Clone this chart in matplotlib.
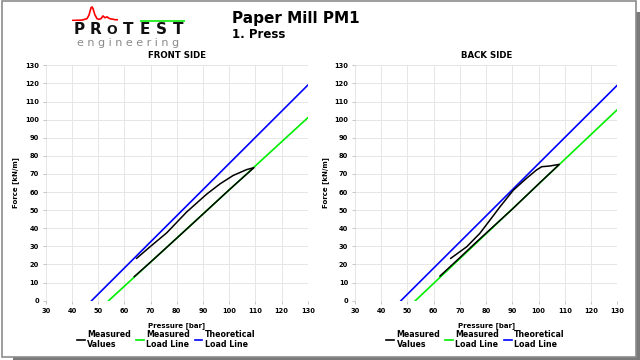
import matplotlib
matplotlib.use("Agg")
import matplotlib.pyplot as plt
from matplotlib.patches import Rectangle
import numpy as np

plt.rcParams['font.family'] = ['DejaVu Sans']

# ---- data ----
x_ticks = [30, 40, 50, 60, 70, 80, 90, 100, 110, 120, 130]
y_ticks = [0, 10, 20, 30, 40, 50, 60, 70, 80, 90, 100, 110, 120, 130]

# Front side
front_theo_x = [47.5, 130]
front_theo_y = [0, 119]
front_load_x = [54, 130]
front_load_y = [0, 101]
front_meas_x = [64.7, 70.0, 76.2, 83.8, 91.4, 96.5, 101.6, 106.7, 109.5,
                100.0, 90.0, 80.0, 70.0, 63.8]
front_meas_y = [23.4, 30.0, 37.5, 49.0, 58.8, 64.5, 69.2, 72.4, 73.5,
                61.2, 47.8, 34.5, 21.3, 13.3]

# Back side
back_theo_x = [47.5, 130]
back_theo_y = [0, 119]
back_load_x = [53, 130]
back_load_y = [0, 105.5]
back_meas_x = [66.5, 72.6, 77.6, 81.5, 85.3, 90.4, 95.4, 99.2, 101.2, 104.3, 107.9,
               100.0, 90.0, 82.0, 76.0, 70.0, 62.4]
back_meas_y = [23.4, 29.8, 37.2, 44.6, 51.9, 61.1, 67.6, 72.2, 74.0, 74.4, 75.3,
               64.5, 50.6, 40.0, 32.0, 23.8, 13.6]

# logo curve
logo_x = [0, 10, 15, 17, 19, 20, 21, 23, 25, 27, 29, 31, 33, 35, 37, 39, 41, 43, 46]
logo_y = [0, 0.2, 1.0, 3, 7, 7.5, 6.5, 3, 1.0, 0.6, 1.0, 2.5, 1.5, 2.0, 1.2, 0.8, 0.7, 0.4, 0.4]

legend_labels = ["Measured\nValues", "Measured\nLoad Line", "Theoretical\nLoad Line"]

fig = plt.figure(figsize=(6.4, 3.6), dpi=100)

# page frame with shadow
fig.patches.append(Rectangle((636/640, 0), 4/640, 348/360, transform=fig.transFigure,
                             facecolor='#7a7a7a', edgecolor='none', zorder=-3))
fig.patches.append(Rectangle((13/640, 0), 627/640, 3/360, transform=fig.transFigure,
                             facecolor='#7a7a7a', edgecolor='none', zorder=-3))
fig.patches.append(Rectangle((2/640, 3/360), 634/640, 356/360, transform=fig.transFigure,
                             facecolor='white', edgecolor='#8c8c8c', linewidth=1.2, zorder=-2))

def panel(rect, title, tx, ty, lx, ly, mx, my):
    ax = fig.add_axes(rect)
    ax.set_facecolor('none')
    ax.plot(tx, ty, color='#0000ff', lw=1.2, zorder=3)
    ax.plot(lx, ly, color='#00ee00', lw=1.2, zorder=3)
    ax.plot(mx, my, color='black', lw=1.1, zorder=4)
    ax.set_xlim(30, 130)
    ax.set_ylim(0, 130)
    ax.set_xticks(x_ticks)
    ax.set_yticks(y_ticks)
    ax.grid(True, color='#e6e6e6', lw=0.7)
    for s in ax.spines.values():
        s.set_visible(False)
    ax.tick_params(length=2, width=0.6, color='#bbbbbb', labelsize=4.8, pad=3)
    for lab in ax.get_xticklabels() + ax.get_yticklabels():
        lab.set_fontweight('bold')
    ax.set_title(title, fontsize=6.2, fontweight='bold', pad=5)
    ax.set_ylabel("Force [kN/m]", fontsize=5, fontweight='bold', labelpad=4)
    ax.set_xlabel("Pressure [bar]", fontsize=5, fontweight='bold', labelpad=6)
    handles = [plt.Line2D([], [], color='black', lw=1.2),
               plt.Line2D([], [], color='#00ee00', lw=1.2),
               plt.Line2D([], [], color='#0000ff', lw=1.2)]
    ax.legend(handles, legend_labels, ncol=3, loc='upper center',
              bbox_to_anchor=(0.46, -0.11), frameon=False,
              prop={'size': 5.7, 'weight': 'bold'}, handlelength=1.0,
              handletextpad=0.3, columnspacing=0.6, borderaxespad=0)
    return ax

panel([0.0714, 0.1647, 0.4094, 0.6539], "FRONT SIDE",
      front_theo_x, front_theo_y, front_load_x, front_load_y, front_meas_x, front_meas_y)
panel([0.5547, 0.1647, 0.4098, 0.6539], "BACK SIDE",
      back_theo_x, back_theo_y, back_load_x, back_load_y, back_meas_x, back_meas_y)

# titles
fig.text(232/640, 1 - 18/360, "Paper Mill PM1", fontsize=11, fontweight='bold', va='center', ha='left')
fig.text(232/640, 1 - 35/360, "1. Press", fontsize=8.5, fontweight='bold', va='center', ha='left')

# logo
lax = fig.add_axes([72/640, 1 - 21/360, 46/640, 15/360])
lax.plot(logo_x, logo_y, color='red', lw=1.2)
lax.set_xlim(0, 46)
lax.set_ylim(-0.3, 8)
lax.axis('off')
fig.patches.append(Rectangle((140/640, 1 - 21.5/360), 45/640, 1.8/360, transform=fig.transFigure,
                             facecolor='#33ee33', edgecolor='none'))
for i, ch in enumerate("PROTEST"):
    fs = 11 if ch != 'O' else 9
    fig.text((79 + i * 16.5) / 640, 1 - 34.5/360, ch, fontsize=fs, fontweight='bold',
             va='baseline', ha='center', family=['DejaVu Sans'], color='#111111')
fig.text(128/640, 1 - 46.5/360, "e n g i n e e r i n g", fontsize=8, color='#8a8a8a',
         va='baseline', ha='center')

fig.savefig("out.png", dpi=100)
